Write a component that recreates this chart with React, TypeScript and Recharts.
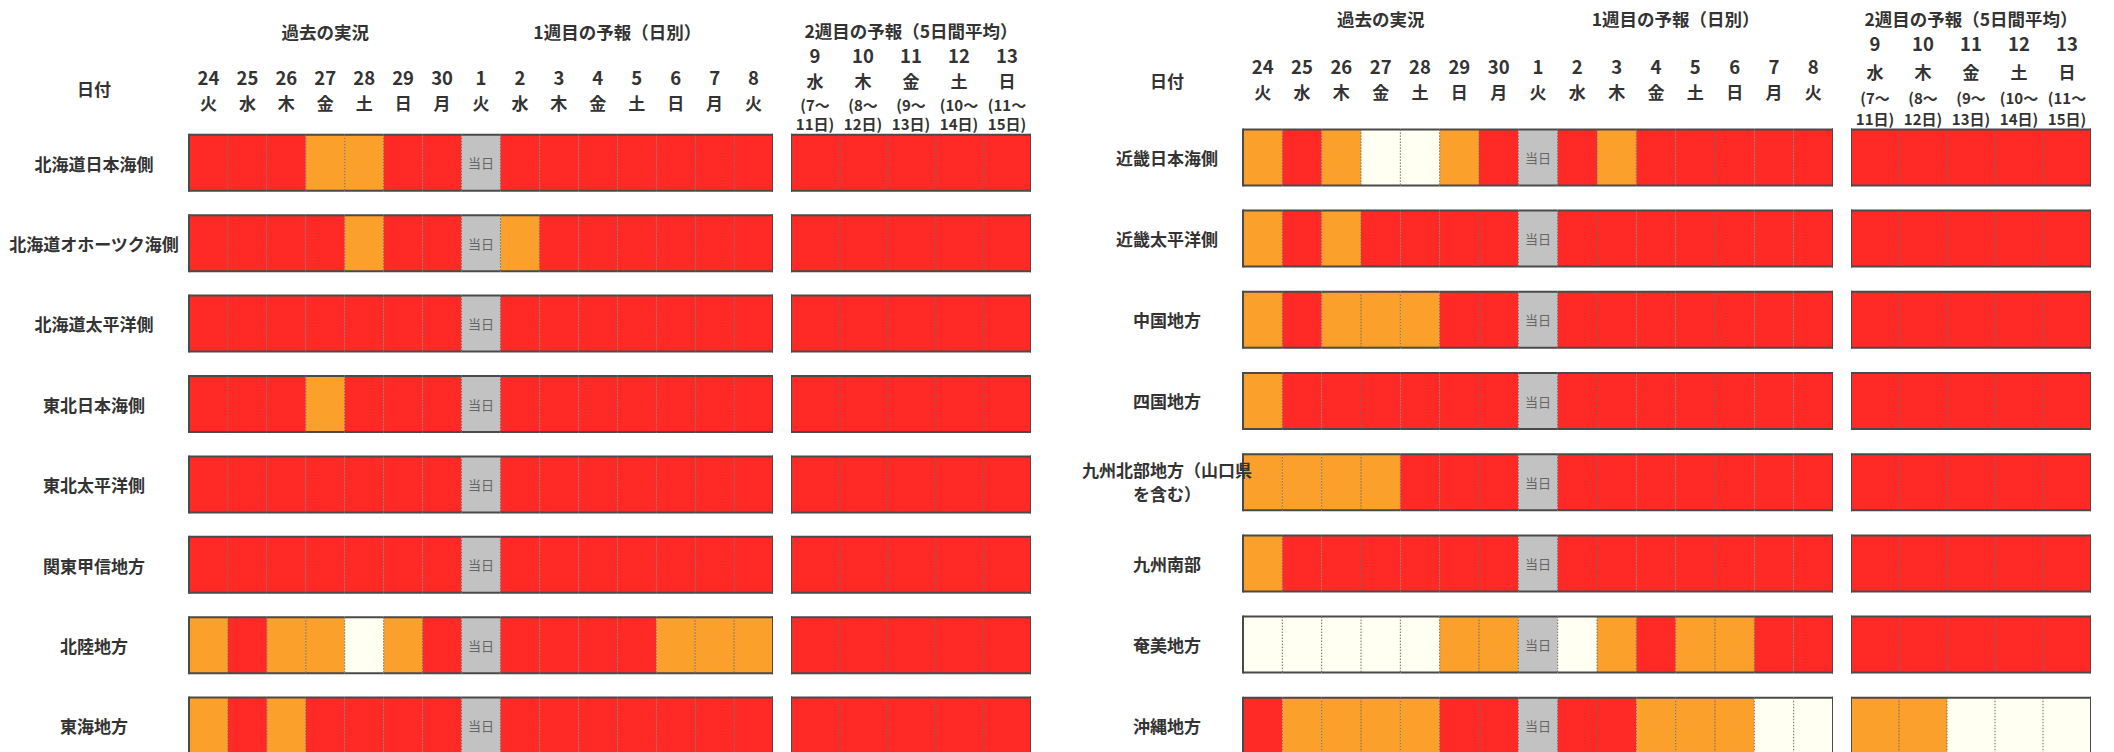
import React from "react";
import { BarChart, Bar, XAxis, YAxis } from "recharts";

// header labels
const dayNums = ["24", "25", "26", "27", "28", "29", "30", "1", "2", "3", "4", "5", "6", "7", "8"];
const dayWeekdays = ["火", "水", "木", "金", "土", "日", "月", "火", "水", "木", "金", "土", "日", "月", "火"];
const weekNums = ["9", "10", "11", "12", "13"];
const weekWeekdays = ["水", "木", "金", "土", "日"];
const weekFrom = ["(7〜", "(8〜", "(9〜", "(10〜", "(11〜"];
const weekTo = ["11日)", "12日)", "13日)", "14日)", "15日)"];
const dailyTitles = ["過去の実況", "1週目の予報（日別）"];
const dailyTitleTicks = [3.5, 11];
const weeklyTitles = ["2週目の予報（5日間平均）"];
const weeklyTitleTicks = [2.5];

// R = red, O = orange, W = pale, G = 当日
const leftRegions = ["北海道日本海側", "北海道オホーツク海側", "北海道太平洋側", "東北日本海側", "東北太平洋側", "関東甲信地方", "北陸地方", "東海地方"];
const leftDaily = [
  "RRROORRGRRRRRRR",
  "RRRRORRGORRRRRR",
  "RRRRRRRGRRRRRRR",
  "RRRORRRGRRRRRRR",
  "RRRRRRRGRRRRRRR",
  "RRRRRRRGRRRRRRR",
  "OROOWORGRRRROOO",
  "ORORRRRGRRRRRRR",
];
const leftWeekly = ["RRRRR", "RRRRR", "RRRRR", "RRRRR", "RRRRR", "RRRRR", "RRRRR", "RRRRR"];

const rightRegions = ["近畿日本海側", "近畿太平洋側", "中国地方", "四国地方", "九州北部地方（山口県\nを含む）", "九州南部", "奄美地方", "沖縄地方"];
const rightDaily = [
  "OROWWORGRORRRRR",
  "ORORRRRGRRRRRRR",
  "OROOORRGRRRRRRR",
  "ORRRRRRGRRRRRRR",
  "OOOORRRGRRRRRRR",
  "ORRRRRRGRRRRRRR",
  "WWWWWOOGWOROORR",
  "ROOOORRGRROOOWW",
];
const rightWeekly = ["RRRRR", "RRRRR", "RRRRR", "RRRRR", "RRRRR", "RRRRR", "RRRRR", "OOWWW"];

const COLORS: Record<string, string> = { R: "#FF2A25", O: "#FBA02A", W: "#FFFFF2", G: "#C2C2C2" };
const FONT = "'Noto Sans CJK JP', 'Noto Sans', sans-serif";
const TEXT = "#333";

function makeShape(col: number, last: number) {
  return (p: any) => {
    const { x, y, width, height, payload } = p;
    const code = payload.codes[col];
    return (
      <g>
        <rect x={x} y={y} width={width} height={height} fill={COLORS[code]} />
        {col > 0 && <line x1={x} x2={x} y1={y} y2={y + height} stroke="#6a6a6a" strokeWidth={1} strokeDasharray="1.5 1.5" />}
        <line x1={x} x2={x + width} y1={y} y2={y} stroke="#4a4a4a" strokeWidth={2} />
        <line x1={x} x2={x + width} y1={y + height} y2={y + height} stroke="#4a4a4a" strokeWidth={2} />
        {col === 0 && <line x1={x} x2={x} y1={y - 1} y2={y + height + 1} stroke="#4a4a4a" strokeWidth={2} />}
        {col === last && <line x1={x + width} x2={x + width} y1={y - 1} y2={y + height + 1} stroke="#4a4a4a" strokeWidth={2} />}
        {code === "G" && (
          <text x={x + width / 2} y={y + height / 2} textAnchor="middle" dominantBaseline="central" fontSize={13} fill="#666" fontFamily={FONT}>
            当日
          </text>
        )}
      </g>
    );
  };
}

type Line = { y: number; size: number; labels: string[] };

function headTick(lines: Line[]) {
  return (p: any) => {
    const i = Math.floor(p.payload.value);
    return (
      <g>
        {lines.map((l, k) => (
          <text key={k} x={p.x} y={l.y} textAnchor="middle" dominantBaseline="central" fontSize={l.size} fontWeight={700} fill={TEXT} fontFamily={FONT}>
            {l.labels[i]}
          </text>
        ))}
      </g>
    );
  };
}

function titleTick(titles: string[], ticks: number[], y: number) {
  return (p: any) => {
    const i = ticks.indexOf(p.payload.value);
    return (
      <text x={p.x} y={y} textAnchor="middle" dominantBaseline="central" fontSize={17.5} fontWeight={700} fill={TEXT} fontFamily={FONT}>
        {titles[i]}
      </text>
    );
  };
}

function regionTick(cx: number) {
  return (p: any) => {
    const parts = String(p.payload.value).split("\n");
    const off = ((parts.length - 1) * 24) / 2;
    return (
      <g>
        {parts.map((s, k) => (
          <text key={k} x={cx} y={p.y - off + k * 24} textAnchor="middle" dominantBaseline="central" fontSize={17} fontWeight={700} fill={TEXT} fontFamily={FONT}>
            {s}
          </text>
        ))}
      </g>
    );
  };
}

interface GridProps {
  left: number;
  width: number;
  axisWidth: number;
  labelCx?: number;
  regions: string[];
  codes: string[];
  plotTop: number;
  plotHeight: number;
  titles: string[];
  titleTicks: number[];
  titleY: number;
  lines: Line[];
}

function Grid({ left, width, axisWidth, labelCx, regions, codes, plotTop, plotHeight, titles, titleTicks, titleY, lines }: GridProps) {
  const n = codes[0].length;
  const cols = Array.from({ length: n }, (_, j) => j);
  const data = regions.map((r, i) => {
    const row: any = { region: r, codes: codes[i] };
    cols.forEach((j) => (row[`c${j}`] = 1));
    return row;
  });
  const centers = cols.map((j) => j + 0.5);
  return (
    <div style={{ position: "absolute", left, top: 0 }}>
      <BarChart
        width={width}
        height={plotTop + plotHeight}
        data={data}
        layout="vertical"
        barSize={56}
        margin={{ top: 0, right: 0, bottom: 0, left: 0 }}
      >
        <XAxis xAxisId="d" type="number" orientation="top" domain={[0, n]} ticks={centers} interval={0} tickLine={false} axisLine={false} height={plotTop - 20} tick={headTick(lines)} />
        <XAxis xAxisId="t" type="number" orientation="top" domain={[0, n]} ticks={titleTicks} interval={0} tickLine={false} axisLine={false} height={20} tick={titleTick(titles, titleTicks, titleY)} allowDataOverflow />
        <YAxis type="category" dataKey="region" width={axisWidth} hide={axisWidth === 0} tickLine={false} axisLine={false} interval={0} tick={regionTick(labelCx ?? 0)} />
        {cols.map((j) => (
          <Bar key={j} xAxisId="d" dataKey={`c${j}`} stackId="s" barSize={56} isAnimationActive={false} shape={makeShape(j, n - 1)} />
        ))}
      </BarChart>
    </div>
  );
}

export default function App() {
  return (
    <div style={{ position: "absolute", left: 0, top: 0, width: 2114, height: 752, overflow: "hidden", background: "#fff", fontFamily: FONT }}>
      {/* left panel */}
      <div style={{ position: "absolute", left: 94, top: 88, transform: "translate(-50%,-50%)", fontSize: 17, fontWeight: 700, color: TEXT }}>日付</div>
      <Grid
        left={0}
        width={773}
        axisWidth={189}
        labelCx={94}
        regions={leftRegions}
        codes={leftDaily}
        plotTop={122.8}
        plotHeight={643.2}
        titles={dailyTitles}
        titleTicks={dailyTitleTicks}
        titleY={31}
        lines={[
          { y: 77, size: 18.5, labels: dayNums },
          { y: 102, size: 17, labels: dayWeekdays },
        ]}
      />
      <Grid
        left={791}
        width={240}
        axisWidth={0}
        regions={leftRegions}
        codes={leftWeekly}
        plotTop={122.8}
        plotHeight={643.2}
        titles={weeklyTitles}
        titleTicks={weeklyTitleTicks}
        titleY={30}
        lines={[
          { y: 55, size: 18.5, labels: weekNums },
          { y: 80, size: 17, labels: weekWeekdays },
          { y: 104, size: 15, labels: weekFrom },
          { y: 123, size: 15, labels: weekTo },
        ]}
      />
      {/* right panel */}
      <div style={{ position: "absolute", left: 1167, top: 80, transform: "translate(-50%,-50%)", fontSize: 17, fontWeight: 700, color: TEXT }}>日付</div>
      <Grid
        left={1040}
        width={793}
        axisWidth={203}
        labelCx={127}
        regions={rightRegions}
        codes={rightDaily}
        plotTop={116.4}
        plotHeight={649.6}
        titles={dailyTitles}
        titleTicks={dailyTitleTicks}
        titleY={18}
        lines={[
          { y: 66, size: 18.5, labels: dayNums },
          { y: 91, size: 17, labels: dayWeekdays },
        ]}
      />
      <Grid
        left={1851}
        width={240}
        axisWidth={0}
        regions={rightRegions}
        codes={rightWeekly}
        plotTop={116.4}
        plotHeight={649.6}
        titles={weeklyTitles}
        titleTicks={weeklyTitleTicks}
        titleY={18}
        lines={[
          { y: 43, size: 18.5, labels: weekNums },
          { y: 71, size: 17, labels: weekWeekdays },
          { y: 97, size: 15, labels: weekFrom },
          { y: 118, size: 15, labels: weekTo },
        ]}
      />
    </div>
  );
}
